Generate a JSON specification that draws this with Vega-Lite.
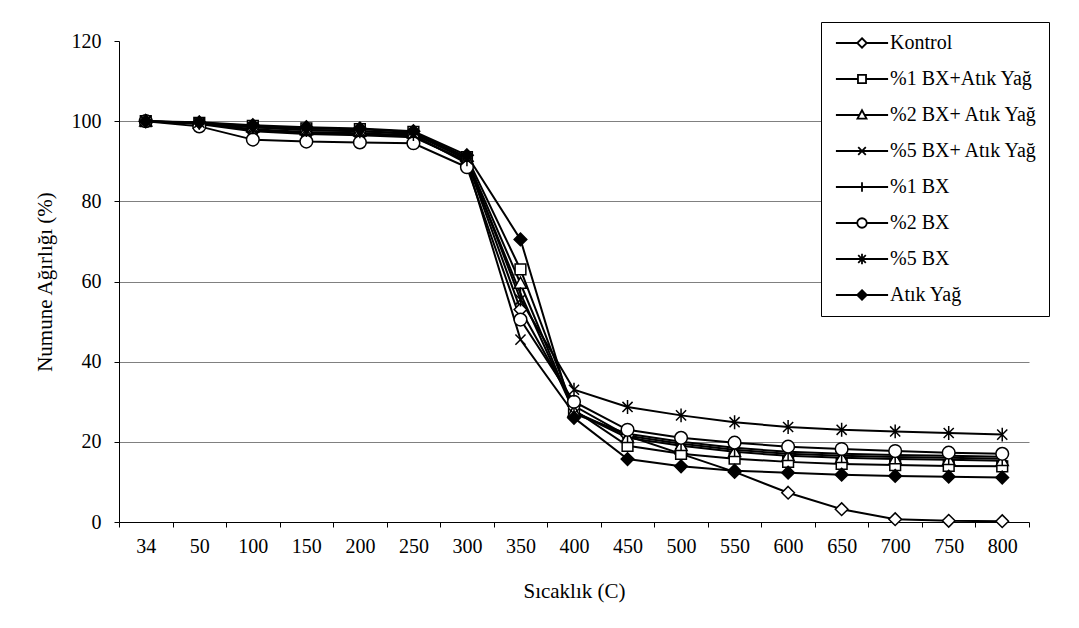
{
  "$schema": "https://vega.github.io/schema/vega-lite/v6.json",
  "width": 910,
  "height": 481,
  "autosize": "none",
  "padding": {"left": 119, "top": 41, "right": 50, "bottom": 106},
  "background": "white",
  "config": {
    "font": "Liberation Serif",
    "view": {"stroke": null},
    "axis": {"labelFont": "Liberation Serif", "titleFont": "Liberation Serif"},
    "legend": {"labelFont": "Liberation Serif", "titleFont": "Liberation Serif"}
  },
  "data": {"values": [
    {"t":"34","s":"Kontrol","v":100},{"t":"50","s":"Kontrol","v":99.3},{"t":"100","s":"Kontrol","v":97.5},{"t":"150","s":"Kontrol","v":96.8},{"t":"200","s":"Kontrol","v":96.5},{"t":"250","s":"Kontrol","v":96},{"t":"300","s":"Kontrol","v":90},{"t":"350","s":"Kontrol","v":53},{"t":"400","s":"Kontrol","v":29},{"t":"450","s":"Kontrol","v":21.5},{"t":"500","s":"Kontrol","v":17},{"t":"550","s":"Kontrol","v":12.5},{"t":"600","s":"Kontrol","v":7.3},{"t":"650","s":"Kontrol","v":3.2},{"t":"700","s":"Kontrol","v":0.7},{"t":"750","s":"Kontrol","v":0.3},{"t":"800","s":"Kontrol","v":0.2},
    {"t":"34","s":"%1 BX+Atık Yağ","v":100},{"t":"50","s":"%1 BX+Atık Yağ","v":99.6},{"t":"100","s":"%1 BX+Atık Yağ","v":98.8},{"t":"150","s":"%1 BX+Atık Yağ","v":98.2},{"t":"200","s":"%1 BX+Atık Yağ","v":98},{"t":"250","s":"%1 BX+Atık Yağ","v":97.3},{"t":"300","s":"%1 BX+Atık Yağ","v":91},{"t":"350","s":"%1 BX+Atık Yağ","v":63},{"t":"400","s":"%1 BX+Atık Yağ","v":28},{"t":"450","s":"%1 BX+Atık Yağ","v":19},{"t":"500","s":"%1 BX+Atık Yağ","v":17},{"t":"550","s":"%1 BX+Atık Yağ","v":15.8},{"t":"600","s":"%1 BX+Atık Yağ","v":15},{"t":"650","s":"%1 BX+Atık Yağ","v":14.5},{"t":"700","s":"%1 BX+Atık Yağ","v":14.2},{"t":"750","s":"%1 BX+Atık Yağ","v":14},{"t":"800","s":"%1 BX+Atık Yağ","v":13.9},
    {"t":"34","s":"%2 BX+ Atık Yağ","v":100},{"t":"50","s":"%2 BX+ Atık Yağ","v":99.5},{"t":"100","s":"%2 BX+ Atık Yağ","v":98.5},{"t":"150","s":"%2 BX+ Atık Yağ","v":97.8},{"t":"200","s":"%2 BX+ Atık Yağ","v":97.5},{"t":"250","s":"%2 BX+ Atık Yağ","v":97},{"t":"300","s":"%2 BX+ Atık Yağ","v":90.5},{"t":"350","s":"%2 BX+ Atık Yağ","v":59.5},{"t":"400","s":"%2 BX+ Atık Yağ","v":27.5},{"t":"450","s":"%2 BX+ Atık Yağ","v":21},{"t":"500","s":"%2 BX+ Atık Yağ","v":19},{"t":"550","s":"%2 BX+ Atık Yağ","v":17.5},{"t":"600","s":"%2 BX+ Atık Yağ","v":16.5},{"t":"650","s":"%2 BX+ Atık Yağ","v":16},{"t":"700","s":"%2 BX+ Atık Yağ","v":15.7},{"t":"750","s":"%2 BX+ Atık Yağ","v":15.5},{"t":"800","s":"%2 BX+ Atık Yağ","v":15.3},
    {"t":"34","s":"%5 BX+ Atık Yağ","v":100},{"t":"50","s":"%5 BX+ Atık Yağ","v":99.4},{"t":"100","s":"%5 BX+ Atık Yağ","v":98},{"t":"150","s":"%5 BX+ Atık Yağ","v":97.3},{"t":"200","s":"%5 BX+ Atık Yağ","v":97},{"t":"250","s":"%5 BX+ Atık Yağ","v":96.5},{"t":"300","s":"%5 BX+ Atık Yağ","v":89.5},{"t":"350","s":"%5 BX+ Atık Yağ","v":45.5},{"t":"400","s":"%5 BX+ Atık Yağ","v":27},{"t":"450","s":"%5 BX+ Atık Yağ","v":22},{"t":"500","s":"%5 BX+ Atık Yağ","v":20},{"t":"550","s":"%5 BX+ Atık Yağ","v":18.5},{"t":"600","s":"%5 BX+ Atık Yağ","v":17.5},{"t":"650","s":"%5 BX+ Atık Yağ","v":17},{"t":"700","s":"%5 BX+ Atık Yağ","v":16.7},{"t":"750","s":"%5 BX+ Atık Yağ","v":16.5},{"t":"800","s":"%5 BX+ Atık Yağ","v":16.3},
    {"t":"34","s":"%1 BX","v":100},{"t":"50","s":"%1 BX","v":99.5},{"t":"100","s":"%1 BX","v":97.8},{"t":"150","s":"%1 BX","v":97},{"t":"200","s":"%1 BX","v":96.8},{"t":"250","s":"%1 BX","v":96.2},{"t":"300","s":"%1 BX","v":90},{"t":"350","s":"%1 BX","v":57},{"t":"400","s":"%1 BX","v":27.5},{"t":"450","s":"%1 BX","v":21.5},{"t":"500","s":"%1 BX","v":19.5},{"t":"550","s":"%1 BX","v":18},{"t":"600","s":"%1 BX","v":17},{"t":"650","s":"%1 BX","v":16.5},{"t":"700","s":"%1 BX","v":16.2},{"t":"750","s":"%1 BX","v":16},{"t":"800","s":"%1 BX","v":15.8},
    {"t":"34","s":"%2 BX","v":100},{"t":"50","s":"%2 BX","v":98.7},{"t":"100","s":"%2 BX","v":95.4},{"t":"150","s":"%2 BX","v":94.9},{"t":"200","s":"%2 BX","v":94.7},{"t":"250","s":"%2 BX","v":94.5},{"t":"300","s":"%2 BX","v":88.5},{"t":"350","s":"%2 BX","v":50.5},{"t":"400","s":"%2 BX","v":30},{"t":"450","s":"%2 BX","v":23},{"t":"500","s":"%2 BX","v":21},{"t":"550","s":"%2 BX","v":19.8},{"t":"600","s":"%2 BX","v":18.8},{"t":"650","s":"%2 BX","v":18.2},{"t":"700","s":"%2 BX","v":17.7},{"t":"750","s":"%2 BX","v":17.3},{"t":"800","s":"%2 BX","v":17},
    {"t":"34","s":"%5 BX","v":100},{"t":"50","s":"%5 BX","v":99.6},{"t":"100","s":"%5 BX","v":98.5},{"t":"150","s":"%5 BX","v":97.8},{"t":"200","s":"%5 BX","v":97.5},{"t":"250","s":"%5 BX","v":96.8},{"t":"300","s":"%5 BX","v":90.5},{"t":"350","s":"%5 BX","v":55.5},{"t":"400","s":"%5 BX","v":33},{"t":"450","s":"%5 BX","v":28.7},{"t":"500","s":"%5 BX","v":26.6},{"t":"550","s":"%5 BX","v":24.9},{"t":"600","s":"%5 BX","v":23.7},{"t":"650","s":"%5 BX","v":23},{"t":"700","s":"%5 BX","v":22.6},{"t":"750","s":"%5 BX","v":22.2},{"t":"800","s":"%5 BX","v":21.8},
    {"t":"34","s":"Atık Yağ","v":100},{"t":"50","s":"Atık Yağ","v":99.7},{"t":"100","s":"Atık Yağ","v":99},{"t":"150","s":"Atık Yağ","v":98.5},{"t":"200","s":"Atık Yağ","v":98.2},{"t":"250","s":"Atık Yağ","v":97.5},{"t":"300","s":"Atık Yağ","v":91.5},{"t":"350","s":"Atık Yağ","v":70.5},{"t":"400","s":"Atık Yağ","v":26},{"t":"450","s":"Atık Yağ","v":15.7},{"t":"500","s":"Atık Yağ","v":13.9},{"t":"550","s":"Atık Yağ","v":12.8},{"t":"600","s":"Atık Yağ","v":12.3},{"t":"650","s":"Atık Yağ","v":11.8},{"t":"700","s":"Atık Yağ","v":11.5},{"t":"750","s":"Atık Yağ","v":11.3},{"t":"800","s":"Atık Yağ","v":11.1}
  ]},
  "encoding": {
    "x": {
      "field": "t", "type": "ordinal", "sort": null, "bandPosition": 0.5,
      "scale": {"type": "band", "paddingInner": 0, "paddingOuter": 0},
      "title": "Sıcaklık (C)",
      "axis": {
        "labelAngle": 0, "labelFontSize": 20, "labelColor": "black", "labelPadding": 9,
        "tickBand": "extent", "tickSize": 5, "tickColor": "black", "domainColor": "black",
        "grid": false, "titleFontSize": 21, "titleFontWeight": "normal", "titleColor": "black", "titlePadding": 24
      }
    },
    "y": {
      "field": "v", "type": "quantitative",
      "scale": {"domain": [0, 120], "nice": false},
      "title": "Numune Ağırlığı (%)",
      "axis": {
        "values": [0, 20, 40, 60, 80, 100, 120],
        "labelFontSize": 20, "labelColor": "black", "labelPadding": 13,
        "tickSize": 5, "tickColor": "black", "domainColor": "black",
        "grid": true, "gridColor": "#808080",
        "gridOpacity": {"condition": {"test": "datum.value === 120 || datum.value === 0", "value": 0}, "value": 1},
        "titleFontSize": 21, "titleFontWeight": "normal", "titleColor": "black", "titlePadding": 16
      }
    }
  },
  "layer": [
    {
      "mark": {"type": "line", "stroke": "black", "strokeWidth": 2},
      "encoding": {"detail": {"field": "s"}}
    },
    {
      "mark": {"type": "point", "filled": true, "stroke": "black", "strokeWidth": 1.5, "opacity": 1, "size": 160},
      "encoding": {
        "shape": {
          "field": "s",
          "sort": null,
          "scale": {
            "range": [
              "M0,-1L1,0L0,1L-1,0Z",
              "M-0.85,-0.85H0.85V0.85H-0.85Z",
              "M0,-1L0.95,0.75H-0.95Z",
              "M-0.8,-0.8L0.8,0.8M-0.8,0.8L0.8,-0.8",
              "M0,-1V1",
              "M1,0A1,1,0,1,1,-1,0A1,1,0,1,1,1,0Z",
              "M-0.8,-0.8L0.8,0.8M-0.8,0.8L0.8,-0.8M0,-1.1V1.1",
              "M0,-1L1,0L0,1L-1,0Z"
            ]
          },
          "legend": null
        },
        "fill": {
          "field": "s",
          "scale": {
            "domain": ["Kontrol", "%1 BX+Atık Yağ", "%2 BX+ Atık Yağ", "%5 BX+ Atık Yağ", "%1 BX", "%2 BX", "%5 BX", "Atık Yağ"],
            "range": ["white", "white", "white", "white", "white", "white", "white", "black"]
          },
          "legend": {
            "orient": "none", "legendX": 702, "legendY": -19,
            "title": null, "fillColor": "white", "strokeColor": "black", "padding": 11,
            "labelFontSize": 20, "labelColor": "black", "symbolSize": 90, "symbolStrokeWidth": 1.8,
            "symbolStrokeColor": "black", "rowPadding": 16, "symbolOffset": 20, "labelOffset": 18,
            "encoding": {
              "symbols": {
                "shape": {
                  "condition": [
                    {"test": "datum.value === 'Kontrol'", "value": "M-5.5,0H-1M1,0H5.5M0,-1L1,0L0,1L-1,0Z"},
                    {"test": "datum.value === '%1 BX+Atık Yağ'", "value": "M-5.5,0H-0.85M0.85,0H5.5M-0.85,-0.85H0.85V0.85H-0.85Z"},
                    {"test": "datum.value === '%2 BX+ Atık Yağ'", "value": "M-5.5,0H-0.55M0.55,0H5.5M0,-1L0.95,0.75H-0.95Z"},
                    {"test": "datum.value === '%5 BX+ Atık Yağ'", "value": "M-5.5,0H5.5M-0.8,-0.8L0.8,0.8M-0.8,0.8L0.8,-0.8"},
                    {"test": "datum.value === '%1 BX'", "value": "M-5.5,0H5.5M0,-1V1"},
                    {"test": "datum.value === '%2 BX'", "value": "M-5.5,0H-1M1,0H5.5M1,0A1,1,0,1,1,-1,0A1,1,0,1,1,1,0Z"},
                    {"test": "datum.value === '%5 BX'", "value": "M-5.5,0H5.5M-0.8,-0.8L0.8,0.8M-0.8,0.8L0.8,-0.8M0,-1.1V1.1"}
                  ],
                  "value": "M-5.5,0H5.5M0,-1L1,0L0,1L-1,0Z"
                },
                "stroke": {"value": "black"},
                "strokeWidth": {"value": 1.8}
              }
            }
          }
        }
      }
    }
  ]
}
